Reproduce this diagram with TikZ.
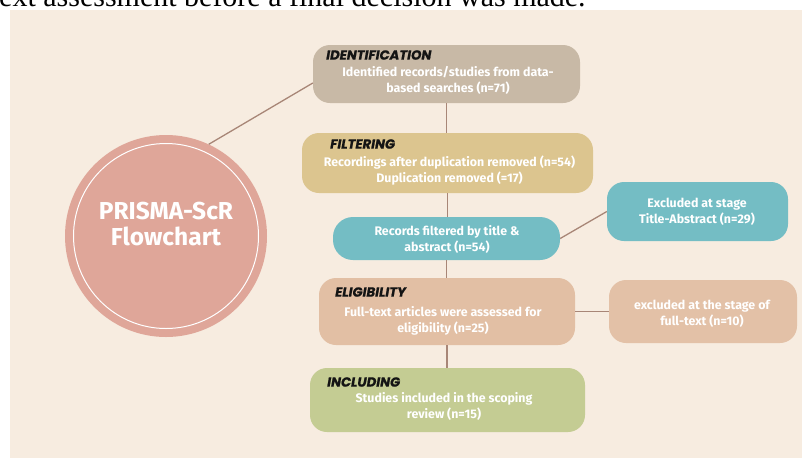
\documentclass[tikz,border=0pt]{standalone}
\usepackage{fontspec}
\setmainfont{Fira Sans}
\newfontfamily\pageserif{Liberation Serif}
\newfontfamily\headfont[FakeBold=0.8]{Poppins}
\usetikzlibrary{calc}
\definecolor{panel}{HTML}{F7ECE0}
\definecolor{identc}{HTML}{C8B9A6}
\definecolor{filtc}{HTML}{DCC58F}
\definecolor{tealc}{HTML}{74BDC4}
\definecolor{eligc}{HTML}{E2BFA4}
\definecolor{exclc}{HTML}{E3C1A7}
\definecolor{inclc}{HTML}{C4CC93}
\definecolor{circc}{HTML}{DFA699}
\definecolor{linkc}{HTML}{A88677}
\definecolor{titlec}{HTML}{141414}
\tikzset{
  stagebox/.style={rectangle, rounded corners=17pt, inner sep=0pt, draw=none},
  stagetitle/.style={anchor=west, inner sep=0pt, text=titlec,
    font=\headfont\fontsize{13.2}{14}\selectfont\bfseries\itshape},
  stagebody/.style={inner sep=0pt, align=center, text=white,
    font=\fontsize{12.4}{16}\selectfont\bfseries},
  link/.style={draw=linkc, line width=1.3pt},
}
\begin{document}
\begin{tikzpicture}[x=1pt, y=-1pt]
\useasboundingbox (0,0) rectangle (802,458);
% page background and panel
\fill[white] (0,0) rectangle (802,458);
\fill[panel] (10,10) rectangle (802,458);
% running text of the page, cut by the panel edge
\begin{scope}
  \clip (0,0) rectangle (802,9.5);
  \node[anchor=base west, inner sep=0pt, font=\pageserif\fontsize{30}{34}\selectfont]
    (pagetext) at (-1,6) {ext assessment before a final decision was made.};
\end{scope}

% central circle
\node[circle, fill=circc, minimum size=202pt, inner sep=0pt] (circ) at (166,236) {};
\draw[white, line width=1pt] (circ.center) circle[radius=92.5pt];
\node[align=center, text=white, inner sep=0pt,
  font=\fontsize{24.5}{25.5}\selectfont\bfseries] (circtext) at (166,224)
  {PRISMA-ScR\\Flowchart};

% stage boxes
\node[stagebox, fill=identc, minimum width=267pt, minimum height=58pt] (ident) at (446.5,74) {};
\node[stagebox, fill=filtc, minimum width=291pt, minimum height=60pt] (filt) at (447.5,163) {};
\node[stagebox, fill=tealc, rounded corners=20pt, minimum width=227pt, minimum height=43pt] (rec) at (446.5,238.5) {};
\node[stagebox, fill=tealc, minimum width=181pt, minimum height=59pt] (exclA) at (697.5,211.5) {};
\node[stagebox, fill=eligc, minimum width=256pt, minimum height=67pt] (elig) at (447,311.5) {};
\node[stagebox, fill=exclc, minimum width=188pt, minimum height=63pt] (exclB) at (703,311.5) {};
\node[stagebox, fill=inclc, minimum width=275pt, minimum height=64pt] (incl) at (447.5,400) {};

% connectors
\draw[link] (circ.65.7) -- ($(ident.west)+(0,9)$);
\draw[link] (ident.south) -- (ident.south |- filt.north);
\draw[link] (filt.south) -- (filt.south |- rec.north);
\draw[link] (rec.south) -- (rec.south |- elig.north);
\draw[link] (elig.south) -- (elig.south |- incl.north);
\draw[link] (rec.east) -- (exclA.west);
\draw[link] (elig.east) -- (exclB.west);

% titles
\node[stagetitle] (identT) at (326,55) {IDENTIFICATION};
\node[stagetitle] (filtT) at (330,144) {FILTERING};
\node[stagetitle] (eligT) at (335,292) {ELIGIBILITY};
\node[stagetitle] (inclT) at (327,382) {INCLUDING};

% texts
\node[stagebody] (identB) at (448,80) {Identified records/studies from data-\\based searches (n=71)};
\node[stagebody] (filtB) at (449.5,171) {Recordings after duplication removed (n=54)\\Duplication removed (=17)};
\node[stagebody] (recB) at (447,239) {Records filtered by title \&\\abstract (n=54)};
\node[stagebody] (exclAB) at (697,211.5) {Excluded at stage\\Title-Abstract (n=29)};
\node[stagebody] (eligB) at (443,321) {Full-text articles were assessed for\\eligibility (n=25)};
\node[stagebody] (exclBB) at (702,314) {excluded at the stage of\\full-text (n=10)};
\node[stagebody] (inclB) at (444,406) {Studies included in the scoping\\review (n=15)};
\end{tikzpicture}
\end{document}
